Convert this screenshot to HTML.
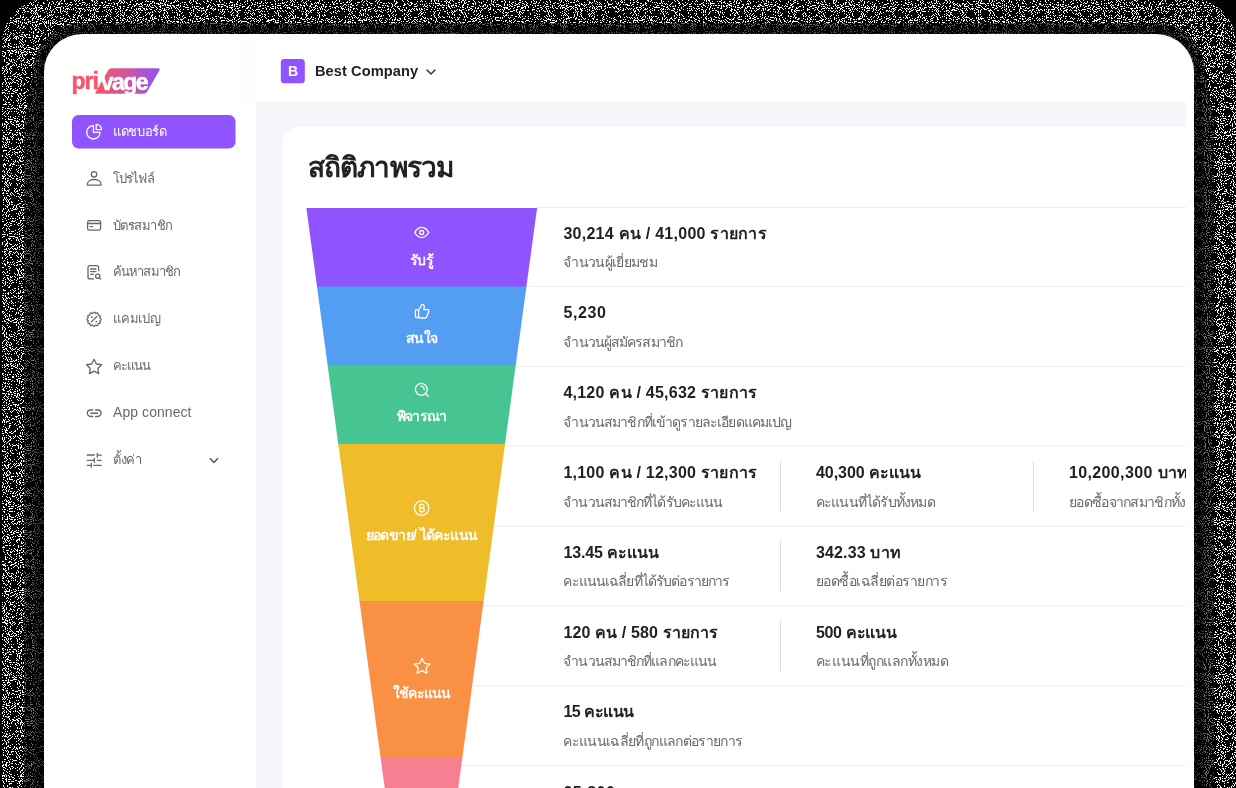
<!DOCTYPE html>
<html lang="th">
<head>
<meta charset="utf-8">
<title>Privage Dashboard</title>
<style>
*{box-sizing:border-box;margin:0;padding:0}
html,body{width:1236px;height:788px;overflow:hidden;background:#000}
body{position:relative;will-change:transform;font-family:"Liberation Sans",sans-serif;color:#222}
#bg{position:absolute;left:0;top:0;width:1236px;height:788px;display:block}
.t{position:absolute;white-space:nowrap;line-height:1}
#content{position:absolute;left:0;top:0;width:1186px;height:788px;overflow:hidden}
.logo{font-weight:bold;font-size:23px;letter-spacing:-1.1px;-webkit-text-stroke:.45px currentColor}
</style>
</head>
<body>
<svg id="bg" width="1236" height="788" viewBox="0 0 1236 788">
  <defs>
    <filter id="nz" x="0" y="0" width="100%" height="100%" color-interpolation-filters="sRGB">
      <feTurbulence type="fractalNoise" baseFrequency="0.93" numOctaves="1" seed="7"/>
      <feColorMatrix type="matrix" values="0 0 0 0 1  0 0 0 0 1  0 0 0 0 1  40 0 0 0 -22.58"/>
      <feComponentTransfer><feFuncA type="discrete" tableValues="0 1"/></feComponentTransfer>
    </filter>
    <filter id="nz2" x="0" y="0" width="100%" height="100%" color-interpolation-filters="sRGB">
      <feTurbulence type="fractalNoise" baseFrequency="0.93" numOctaves="1" seed="23"/>
      <feColorMatrix type="matrix" values="0 0 0 0 .42  0 0 0 0 .42  0 0 0 0 .42  40 0 0 0 -22.9"/>
      <feComponentTransfer><feFuncA type="discrete" tableValues="0 1"/></feComponentTransfer>
    </filter>
    <filter id="nz3" x="0" y="0" width="100%" height="100%" color-interpolation-filters="sRGB">
      <feTurbulence type="fractalNoise" baseFrequency="0.93" numOctaves="1" seed="41"/>
      <feColorMatrix type="matrix" values="0 0 0 0 .26  0 0 0 0 .26  0 0 0 0 .26  40 0 0 0 -22.9"/>
      <feComponentTransfer><feFuncA type="discrete" tableValues="0 1"/></feComponentTransfer>
    </filter>
    <linearGradient id="lg" x1="0" y1="0" x2="1" y2="0"><stop offset="0" stop-color="#fb5660"/><stop offset=".45" stop-color="#d2569a"/><stop offset="1" stop-color="#8a55f8"/></linearGradient>
    <clipPath id="cOuter"><rect x="2" y="-1" width="1234" height="900" rx="44"/></clipPath>
    <clipPath id="cBand"><path d="M24 800V125L33 72A49 49 0 0 1 82 23H1156A49 49 0 0 1 1205 72L1214 125V800Z"/></clipPath>
    <clipPath id="cBand2"><path d="M34 800V125L38.5 72A43.5 43.5 0 0 1 82 28.5H1156A43.5 43.5 0 0 1 1199.5 72L1204 125V800Z"/></clipPath>
    <clipPath id="cWin"><rect x="44" y="34" width="1150" height="900" rx="38"/></clipPath>
    <clipPath id="cContent"><rect x="256" y="101.5" width="930" height="700"/></clipPath>
    <clipPath id="cFunnel"><path d="M306.4 208H537.1L458.2 788H384.7Z"/></clipPath>
  </defs>
  <rect width="1236" height="788" fill="#000"/>
  <g clip-path="url(#cOuter)"><rect width="1236" height="788" filter="url(#nz)"/></g>
  <g clip-path="url(#cBand)"><rect width="1236" height="788" fill="#000"/><rect width="1236" height="788" filter="url(#nz2)"/></g>
  <g clip-path="url(#cBand2)"><rect width="1236" height="788" fill="#000"/><rect width="1236" height="788" filter="url(#nz3)"/></g>
  <g clip-path="url(#cWin)">
    <rect x="43" y="33" width="1152" height="760" fill="#fff"/>
    <g clip-path="url(#cContent)">
      <rect x="256" y="101.5" width="930" height="700" fill="#f5f6fa"/>
      <rect x="282.5" y="126.7" width="1000" height="700" rx="16" fill="#fff"/>
      <g fill="#ececec"><rect x="537" y="207" width="663" height="1"/><rect x="526" y="286" width="674" height="1"/><rect x="515" y="366" width="685" height="1"/><rect x="504" y="445.3" width="696" height="1"/><rect x="493" y="525.8" width="707" height="1"/><rect x="483" y="605.2" width="717" height="1"/><rect x="472" y="685.2" width="728" height="1"/><rect x="461" y="764.8" width="739" height="1"/></g>
      <g fill="#dcdcdc">
        <rect x="780" y="461" width="1" height="50.5"/><rect x="1033" y="461" width="1" height="50.5"/>
        <rect x="780" y="540.5" width="1" height="51"/><rect x="780" y="620.5" width="1" height="51"/>
      </g>
      <path d="M306.40 208H537.10L526.34 287.09999999999997H317.08Z" fill="#8f54fd"/>
      <path d="M316.98 286.4H526.44L515.68 365.5H327.66Z" fill="#539df3"/>
      <path d="M327.57 364.8H515.78L504.91 444.7H338.35Z" fill="#46c492"/>
      <path d="M338.26 444H505.00L483.56 601.7H359.55Z" fill="#f0bd2a"/>
      <path d="M359.45 601H483.65L462.20 758.7H380.74Z" fill="#fa9043"/>
      <path d="M380.65 758H462.30L457.68 792H385.24Z" fill="#f67f91"/>

      <!-- funnel icons -->
      <g fill="none" stroke="#fff" stroke-width="1.3" stroke-linecap="round" stroke-linejoin="round">
        <path d="M414.7 232.5C417 228.6 419.5 227.4 421.7 227.4S426.4 228.6 428.8 232.5C426.4 236.4 424 237.6 421.7 237.6S417 236.4 414.7 232.5Z"/>
        <circle cx="421.7" cy="232.5" r="2"/>
        <rect x="415.4" y="309.9" width="3.2" height="7.6" rx=".9"/>
        <path d="M418.6 310.2L421.6 305C422 304.3 422.9 304.3 423.5 304.8C424.1 305.3 424.3 305.9 424.2 306.6L423.8 309.6H427.4C428.5 309.6 429.2 310.6 428.8 311.6L426.6 316.9C426.3 317.6 425.7 318 425 318H420.4C419.6 318 418.9 317.7 418.6 317.3"/>
        <circle cx="421.3" cy="389.3" r="5.9"/>
        <path d="M425.6 393.6L428.3 396.2M420.9 386.2A3.2 3.2 0 0 1 424.2 389.4"/>
        <circle cx="421.7" cy="508.1" r="7.2"/>
        <path d="M422.10 658.40 L424.51 663.28 L429.90 664.07 L426.00 667.87 L426.92 673.23 L422.10 670.70 L417.28 673.23 L418.20 667.87 L414.30 664.07 L419.69 663.28Z"/>
      </g>
      <g fill="none" stroke="#fff" stroke-width="1.25" stroke-linejoin="round" stroke-linecap="round">
        <path d="M419.9 504.6V511.6H422.6A1.75 1.75 0 0 0 422.6 508.1H419.9M422.3 508.1A1.75 1.75 0 0 0 422.3 504.6H419.9M421.7 503.5V504.6M421.7 511.6V512.7"/>
      </g>
    </g>
    <rect x="241" y="42" width="15" height="60" fill="#fdfdfd"/>
    <!-- sidebar active -->
    <rect x="72" y="115" width="163.5" height="33.4" rx="6.5" fill="#8f54fd"/>
    <!-- header company badge -->
    <rect x="280.8" y="59" width="24" height="24.2" rx="3.5" fill="#8f54fd"/>
    <path d="M427 70l4 4l4-4" fill="none" stroke="#333" stroke-width="1.5" stroke-linecap="round" stroke-linejoin="round"/>
    <path d="M210.2 458.6l3.7 3.8l3.7-3.8" fill="none" stroke="#555" stroke-width="1.4" stroke-linecap="round" stroke-linejoin="round"/>
    <!-- logo -->
    <path d="M111.6 68.3H157.8Q160.6 68.3 159.3 70.8L147.2 91.6Q145.9 93.8 143.4 93.8H96.2Q94.6 93.8 95.5 92.2L108.2 70.3Q109.4 68.3 111.6 68.3Z" fill="url(#lg)"/>
    <!-- sidebar icons -->
    <g fill="none" stroke="#fff" stroke-width="1.3" stroke-linejoin="round">
      <path d="M93.4 125.6V132.3H100.1A6.7 6.7 0 1 1 93.4 125.6Z"/>
      <path d="M96.2 124.3A5.4 5.4 0 0 1 101.6 129.7H96.2Z"/>
    </g>
    <g fill="none" stroke="#666" stroke-width="1.3" stroke-linecap="round" stroke-linejoin="round">
      <circle cx="94.05" cy="174.3" r="2.7"/>
      <path d="M87.4 185.2V184.2C87.4 181.2 90.7 179.5 94.2 179.5S101 181.2 101 184.2V185.2Z"/>
      <rect x="87.6" y="220.7" width="13" height="9.5" rx="1.8"/>
      <path d="M87.6 223.5H100.6M90.1 226.6H92.6"/>
      <path d="M93.6 278.9H90A2 2 0 0 1 88 276.9V267.7A2 2 0 0 1 90 265.7H96.7A2 2 0 0 1 98.7 267.7V270.6M90.6 269H96M90.6 271.6H96M90.6 274.3H93.4"/>
      <circle cx="97.7" cy="276.2" r="2.1"/>
      <path d="M99.3 277.8L100.7 279.1"/>
      <path d="M92.51 313.55 Q94.05 310.80 95.59 313.55 Q98.30 311.94 98.26 315.09 Q101.41 315.05 99.80 317.76 Q102.55 319.30 99.80 320.84 Q101.41 323.55 98.26 323.51 Q98.30 326.66 95.59 325.05 Q94.05 327.80 92.51 325.05 Q89.80 326.66 89.84 323.51 Q86.69 323.55 88.30 320.84 Q85.55 319.30 88.30 317.76 Q86.69 315.05 89.84 315.09 Q89.80 311.94 92.51 313.55Z"/>
      <path d="M91.4 321.9L96.8 316.5"/>
      <path d="M94.05 359.30 L96.37 364.00 L101.56 364.76 L97.81 368.42 L98.69 373.59 L94.05 371.15 L89.41 373.59 L90.29 368.42 L86.54 364.76 L91.73 364.00Z"/>
      <path d="M92.7 410H90.6A3.25 3.25 0 0 0 90.6 416.5H92.7M95.6 410H97.8A3.25 3.25 0 0 1 97.8 416.5H95.6M90.7 413.25H97.7"/>
      <path d="M87.2 455H94.2M97.3 453.4V457.2M97.3 455.2H101.2M87.2 460.3H94.3M94.3 458.3V462.3M97.2 460.3H101.2M87.2 465.3H91.2M91.3 463.3V467.3M93.7 465.3H101.2"/>
    </g>
    <circle cx="91.9" cy="317.2" r=".85" fill="#666"/><circle cx="96.3" cy="321.6" r=".85" fill="#666"/>
  </g>
</svg>
<div class="t logo" style="left:71.6px;top:70.3px;color:#f9566a">pri</div>
<div class="t logo" style="left:100.8px;top:70.6px;color:#fff;letter-spacing:-1.6px">vage</div>
<nav>
<div class="t" id="t1" style="left:113.00px;top:124.70px;font-size:13px;color:#fff;letter-spacing:-0.367px;">แดชบอร์ด</div>
<div class="t" id="t2" style="left:113.00px;top:171.63px;font-size:13px;color:#696969;letter-spacing:-0.900px;">โปรไฟล์</div>
<div class="t" id="t3" style="left:113.00px;top:218.56px;font-size:13px;color:#696969;letter-spacing:-0.571px;">บัตรสมาชิก</div>
<div class="t" id="t4" style="left:113.00px;top:265.49px;font-size:13px;color:#696969;letter-spacing:-0.900px;">ค้นหาสมาชิก</div>
<div class="t" id="t5" style="left:113.00px;top:312.42px;font-size:13px;color:#696969;letter-spacing:-0.200px;">แคมเปญ</div>
<div class="t" id="t6" style="left:113.00px;top:359.35px;font-size:13px;color:#696969;letter-spacing:-0.900px;">คะแนน</div>
<div class="t" id="t7" style="left:113.00px;top:405.43px;font-size:14px;color:#696969;letter-spacing:0.066px;">App connect</div>
<div class="t" id="t8" style="left:113.00px;top:453.21px;font-size:13px;color:#696969;letter-spacing:-0.333px;">ตั้งค่า</div>
</nav>
<header>
<div class="t" id="t9" style="left:143.00px;width:300px;text-align:center;top:64.25px;font-size:14px;color:#fff;font-weight:bold;">B</div>
<div class="t" id="t10" style="left:315.00px;top:63.74px;font-size:14.6px;color:#222;font-weight:bold;letter-spacing:0.074px;">Best Company</div>
</header>
<main id="content">
<div class="t" id="t11" style="left:308.00px;top:154.30px;font-size:28px;color:#222;font-weight:bold;letter-spacing:-0.900px;">สถิติภาพรวม</div>
<div class="t" id="t12" style="left:563.40px;top:225.66px;font-size:16px;color:#222;font-weight:bold;letter-spacing:0.258px;">30,214 คน / 41,000 รายการ</div>
<div class="t" id="t13" style="left:563.40px;top:255.25px;font-size:14px;color:#696969;letter-spacing:-0.680px;">จำนวนผู้เยี่ยมชม</div>
<div class="t" id="t14" style="left:563.40px;top:305.46px;font-size:16px;color:#222;font-weight:bold;letter-spacing:0.600px;">5,230</div>
<div class="t" id="t15" style="left:563.40px;top:335.05px;font-size:14px;color:#696969;letter-spacing:-0.885px;">จำนวนผู้สมัครสมาชิก</div>
<div class="t" id="t16" style="left:563.40px;top:385.26px;font-size:16px;color:#222;font-weight:bold;letter-spacing:0.235px;">4,120 คน / 45,632 รายการ</div>
<div class="t" id="t17" style="left:563.40px;top:414.85px;font-size:14px;color:#696969;letter-spacing:-0.857px;">จำนวนสมาชิกที่เข้าดูรายละเอียดแคมเปญ</div>
<div class="t" id="t18" style="left:563.40px;top:465.06px;font-size:16px;color:#222;font-weight:bold;letter-spacing:0.235px;">1,100 คน / 12,300 รายการ</div>
<div class="t" id="t19" style="left:563.40px;top:494.65px;font-size:14px;color:#696969;letter-spacing:-0.900px;">จำนวนสมาชิกที่ได้รับคะแนน</div>
<div class="t" id="t20" style="left:815.90px;top:465.06px;font-size:16px;color:#222;font-weight:bold;letter-spacing:-0.017px;">40,300 คะแนน</div>
<div class="t" id="t21" style="left:815.90px;top:494.65px;font-size:14px;color:#696969;letter-spacing:-0.807px;">คะแนนที่ได้รับทั้งหมด</div>
<div class="t" id="t22" style="left:1068.90px;top:465.06px;font-size:16px;color:#222;font-weight:bold;letter-spacing:0.375px;">10,200,300 บาท</div>
<div class="t" id="t23" style="left:1068.90px;top:494.65px;font-size:14px;color:#696969;letter-spacing:-0.676px;">ยอดซื้อจากสมาชิกทั้งหมด</div>
<div class="t" id="t24" style="left:563.40px;top:544.86px;font-size:16px;color:#222;font-weight:bold;letter-spacing:-0.118px;">13.45 คะแนน</div>
<div class="t" id="t25" style="left:563.40px;top:574.45px;font-size:14px;color:#696969;letter-spacing:-0.867px;">คะแนนเฉลี่ยที่ได้รับต่อรายการ</div>
<div class="t" id="t26" style="left:815.90px;top:544.86px;font-size:16px;color:#222;font-weight:bold;letter-spacing:0.157px;">342.33 บาท</div>
<div class="t" id="t27" style="left:815.90px;top:574.45px;font-size:14px;color:#696969;letter-spacing:-0.500px;">ยอดซื้อเฉลี่ยต่อรายการ</div>
<div class="t" id="t28" style="left:563.40px;top:624.66px;font-size:16px;color:#222;font-weight:bold;letter-spacing:0.126px;">120 คน / 580 รายการ</div>
<div class="t" id="t29" style="left:563.40px;top:654.25px;font-size:14px;color:#696969;letter-spacing:-0.900px;">จำนวนสมาชิกที่แลกคะแนน</div>
<div class="t" id="t30" style="left:815.90px;top:624.66px;font-size:16px;color:#222;font-weight:bold;letter-spacing:-0.305px;">500 คะแนน</div>
<div class="t" id="t31" style="left:815.90px;top:654.25px;font-size:14px;color:#696969;letter-spacing:-0.460px;">คะแนนที่ถูกแลกทั้งหมด</div>
<div class="t" id="t32" style="left:563.40px;top:704.46px;font-size:16px;color:#222;font-weight:bold;letter-spacing:-0.479px;">15 คะแนน</div>
<div class="t" id="t33" style="left:563.40px;top:734.05px;font-size:14px;color:#696969;letter-spacing:-0.655px;">คะแนนเฉลี่ยที่ถูกแลกต่อรายการ</div>
<div class="t" id="t34" style="left:563.40px;top:784.86px;font-size:16px;color:#222;font-weight:bold;letter-spacing:0.512px;">25,800</div>
<div class="t" id="t35" style="left:271.60px;width:300px;text-align:center;top:252.75px;font-size:14px;color:#fff;font-weight:bold;letter-spacing:-0.750px;">รับรู้</div>
<div class="t" id="t36" style="left:271.60px;width:300px;text-align:center;top:331.45px;font-size:14px;color:#fff;font-weight:bold;letter-spacing:-0.900px;">สนใจ</div>
<div class="t" id="t37" style="left:271.60px;width:300px;text-align:center;top:409.45px;font-size:14px;color:#fff;font-weight:bold;letter-spacing:-0.800px;">พิจารณา</div>
<div class="t" id="t38" style="left:271.60px;width:300px;text-align:center;top:528.25px;font-size:14px;color:#fff;font-weight:bold;letter-spacing:-0.599px;">ยอดขาย/ ได้คะแนน</div>
<div class="t" id="t39" style="left:271.60px;width:300px;text-align:center;top:686.15px;font-size:14px;color:#fff;font-weight:bold;letter-spacing:-0.900px;">ใช้คะแนน</div>
</main>
</body>
</html>
